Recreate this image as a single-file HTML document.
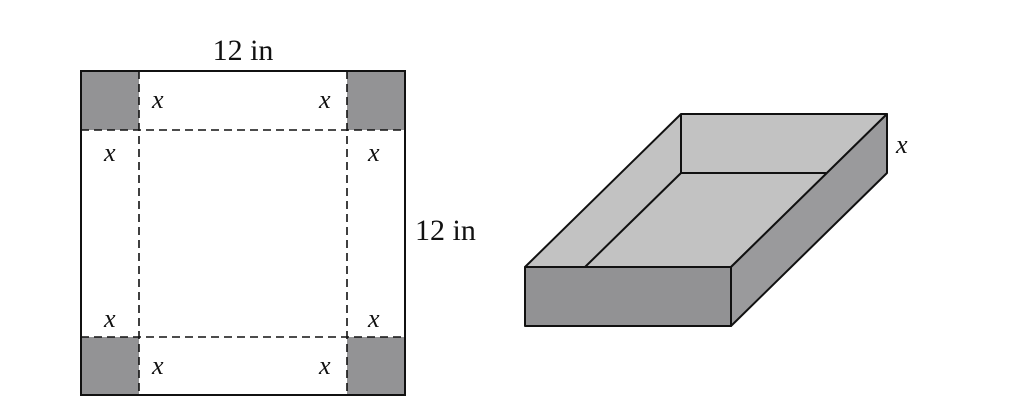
<!DOCTYPE html>
<html><head><style>body{margin:0;background:#fff}svg{display:block}</style></head>
<body>
<svg width="1027" height="405" xmlns="http://www.w3.org/2000/svg" font-family="Liberation Serif, serif">
<rect x="81" y="71" width="58" height="59" fill="#939395"/>
<rect x="347" y="71" width="58" height="59" fill="#939395"/>
<rect x="81" y="337" width="58" height="58" fill="#939395"/>
<rect x="347" y="337" width="58" height="58" fill="#939395"/>
<g stroke="#111" stroke-width="1.6" stroke-dasharray="8,5" fill="none">
<line x1="139" y1="71" x2="139" y2="395"/><line x1="347" y1="71" x2="347" y2="395"/>
<line x1="81" y1="130" x2="405" y2="130"/><line x1="81" y1="337" x2="405" y2="337"/>
</g>
<rect x="81" y="71" width="324" height="324" fill="none" stroke="#111" stroke-width="2"/>
<g font-size="30" fill="#111">
<text x="243" y="60" text-anchor="middle">12 in</text>
<text x="415" y="240">12 in</text>
</g>
<g font-size="26" font-style="italic" fill="#111">
<text x="152" y="108">x</text><text x="319" y="108">x</text>
<text x="104" y="161">x</text><text x="368" y="161">x</text>
<text x="104" y="327">x</text><text x="368" y="327">x</text>
<text x="152" y="374">x</text><text x="319" y="374">x</text>
<text x="896" y="153">x</text>
</g>
<g stroke="#111" stroke-width="2" stroke-linejoin="round">
<polygon points="681,114 887,114 731,267 525,267" fill="#c2c2c2"/>
<polygon points="731,267 887,114 887,173 731,326" fill="#9a9a9c"/>
<rect x="525" y="267" width="206" height="59" fill="#929294"/>
<polyline points="681,114 681,173 826,173" fill="none"/>
<line x1="681" y1="173" x2="585" y2="267"/>
</g>
</svg>
</body></html>
